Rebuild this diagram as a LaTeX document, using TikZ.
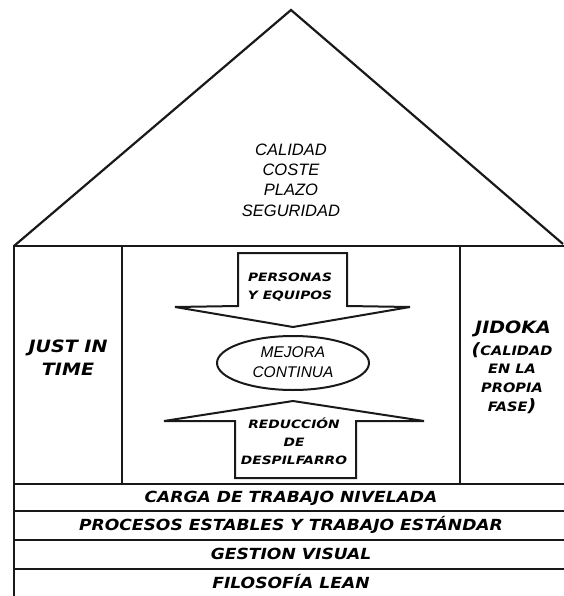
\documentclass[tikz,border=0pt]{standalone}
\usepackage{fontspec}
\usetikzlibrary{shapes.geometric}
\newfontfamily\vbi{DejaVu Sans Bold Oblique}[FakeStretch=1.12]
\newfontfamily\vbs{DejaVu Sans Bold Oblique}[FakeStretch=1.2]
\newfontfamily\lsi{Liberation Sans Italic}
\begin{document}
\begin{tikzpicture}[x=1pt,y=-1pt,
  wall/.style={line width=2.5pt, draw=black!90, line cap=rect},
  arr/.style={line width=2pt, draw=black!90, fill=white, line join=miter},
  roofTxt/.style={font=\lsi\fontsize{16.5}{20.4}\selectfont, align=center, inner sep=0pt},
  pillarTxt/.style={font=\vbi\fontsize{17}{23}\selectfont, align=center, inner sep=0pt},
  arrTxt/.style={font=\vbs\fontsize{11.5}{18}\selectfont, align=center, inner sep=0pt},
  bandTxt/.style={font=\vbi\fontsize{15.3}{15}\selectfont, inner sep=0pt}
]
\useasboundingbox (0,0) rectangle (563,596);
% roof
\coordinate (apex) at (291,10);
\coordinate (rl) at (14,246);
\coordinate (rr) at (563,244);
\coordinate (br) at (563,246);
\draw[wall, line width=2.2pt, line cap=butt] (rl) -- (apex) -- (rr);
\draw[wall, line width=2.8pt] (rl) -- (br);
% walls and columns
\coordinate (lwb) at (14,596);
\draw[wall] (rl) -- (lwb);
\coordinate (c1t) at (122,246); \coordinate (c1b) at (122,484);
\coordinate (c2t) at (460,246); \coordinate (c2b) at (460,484);
\draw[wall] (c1t) -- (c1b);
\draw[wall] (c2t) -- (c2b);
% bands
\foreach \yy in {484,511,540,569}{
  \draw[wall] (14,\yy) -- (563,\yy);
}
% down arrow
\draw[arr] (238,253) -- (347,253) -- (347,306) -- (410,307) -- (293,327)
  -- (175,307) -- (238,306) -- cycle;
% up arrow
\draw[arr] (235,478) -- (235,421) -- (164,421) -- (293,401) -- (424,421)
  -- (356,421) -- (356,478) -- cycle;
% ellipse
\node[ellipse, draw=black!90, line width=2pt, minimum width=152pt, minimum height=54pt] (mejora) at (293,363) {};
% texts
\node[roofTxt] (goals) at (291,180) {CALIDAD\\COSTE\\PLAZO\\SEGURIDAD};
\node[roofTxt, font=\lsi\fontsize{15.5}{20}\selectfont] (mejoraTxt) at (293,362) {MEJORA\\CONTINUA};
\node[pillarTxt] (jit) at (68,358) {JUST IN\\TIME};
\node[pillarTxt] (jidoka) at (513,329) {JIDOKA};
\node[font=\vbi\fontsize{13}{18.7}\selectfont, align=center, inner sep=0pt] (jidokaSub) at (512,378)
  {{\fontsize{17}{18.7}\selectfont(}CALIDAD\\EN LA\\PROPIA\\FASE{\fontsize{17}{18.7}\selectfont)}};
\node[arrTxt] (pers) at (290,287) {PERSONAS\\Y EQUIPOS};
\node[arrTxt] (redu) at (294,441) {REDUCCIÓN\\DE\\DESPILFARRO};
\node[bandTxt] (carga) at (291,498) {CARGA DE TRABAJO NIVELADA};
\node[bandTxt] (proc) at (291,525) {PROCESOS ESTABLES Y TRABAJO ESTÁNDAR};
\node[bandTxt] (gest) at (291,554) {GESTION VISUAL};
\node[bandTxt] (filo) at (291,582) {FILOSOFÍA LEAN};
\end{tikzpicture}
\end{document}
